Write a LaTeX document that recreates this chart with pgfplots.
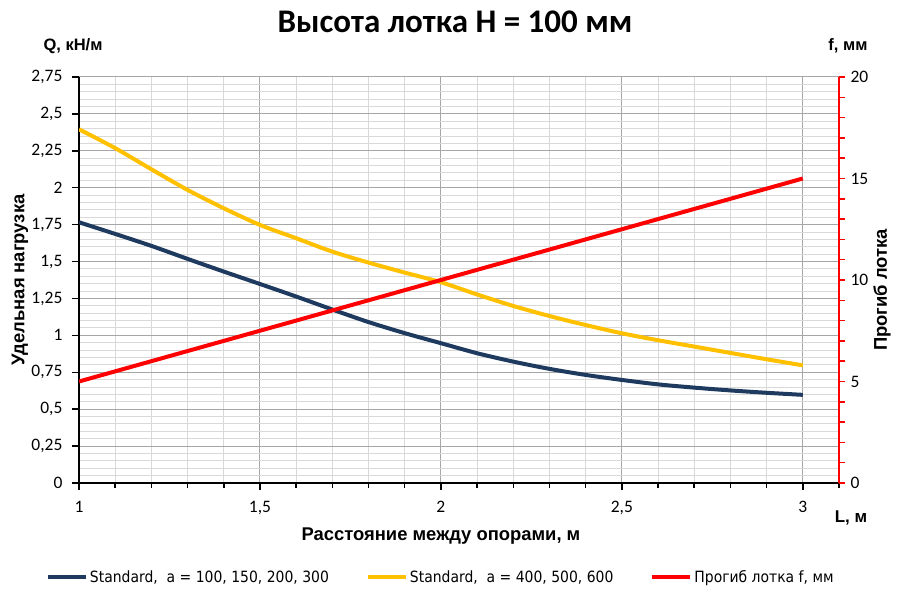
\documentclass[border=0pt]{standalone}
\usepackage{pgfplots}
\pgfplotsset{compat=1.18}
\usepackage{fontspec}
\setmainfont{Carlito}
\newfontfamily\arialfont{Liberation Sans}
\newfontfamily\legfont{DejaVu Sans}[FakeStretch=0.9]
\definecolor{navy}{HTML}{1F3A5F}
\definecolor{gold}{HTML}{FFC000}
\definecolor{majgrid}{HTML}{A6A6A6}
\definecolor{mingrid}{HTML}{D9D9D9}
\begin{document}
\begin{tikzpicture}[x=1pt,y=1pt]
\path[use as bounding box] (0,0) rectangle (900,604);
\begin{axis}[at={(79pt,121pt)}, anchor=south west, scale only axis,
  width=760pt, height=406pt,
  xmin=1, xmax=3.1, ymin=0, ymax=2.75,
  axis x line*=bottom, axis y line*=left,
  axis line style={line width=2.2pt, black, -},
  xtick={1,1.5,2,2.5,3}, xticklabels={1,{1,5},2,{2,5},3},
  minor xtick={1.1,1.2,1.3,1.4,1.6,1.7,1.8,1.9,2.1,2.2,2.3,2.4,2.6,2.7,2.8,2.9,3.1},
  ytick={0,0.25,0.5,0.75,1,1.25,1.5,1.75,2,2.25,2.5,2.75},
  yticklabels={0,{0,25},{0,5},{0,75},1,{1,25},{1,5},{1,75},2,{2,25},{2,5},{2,75}},
  minor y tick num=4,
  grid=both,
  major grid style={majgrid, line width=1pt},
  minor grid style={mingrid, line width=1pt},
  tick align=outside, major tick length=7pt, minor tick length=5pt,
  tick style={black, line width=1.5pt},
  minor y tick style={draw=none},
  ticklabel style={font=\fontsize{17.5}{17.5}\selectfont},
  xticklabel style={yshift=-8pt},
  yticklabel style={xshift=-6pt},
  legend columns=3,
  legend style={draw=none, fill=none, at={(0.476,-0.2315)}, anchor=center,
    font=\legfont\fontsize{15.5}{15.5}\selectfont,
    /tikz/every even column/.append style={column sep=35pt}},
  legend image code/.code={\draw[#1] (0pt,0pt) -- (38pt,0pt);},
]
\addplot[navy, line width=4pt, smooth] coordinates {
(1.0,1.766) (1.1,1.687) (1.2,1.606) (1.3,1.518) (1.4,1.432) (1.5,1.348)
(1.6,1.263) (1.7,1.175) (1.8,1.090) (1.9,1.015) (2.0,0.947) (2.1,0.879)
(2.2,0.822) (2.3,0.773) (2.4,0.732) (2.5,0.698) (2.6,0.668) (2.7,0.646)
(2.8,0.627) (2.9,0.611) (3.0,0.597)};
\addlegendentry{Standard,\ \ a = 100, 150, 200, 300}
\addplot[gold, line width=4pt, smooth] coordinates {
(1.0,2.396) (1.1,2.268) (1.2,2.125) (1.3,1.985) (1.4,1.861) (1.5,1.748)
(1.6,1.658) (1.7,1.567) (1.8,1.493) (1.9,1.425) (2.0,1.360) (2.1,1.277)
(2.2,1.199) (2.3,1.131) (2.4,1.070) (2.5,1.014) (2.6,0.967) (2.7,0.924)
(2.8,0.881) (2.9,0.838) (3.0,0.797)};
\addlegendentry{Standard,\ \ a = 400, 500, 600}
\addlegendimage{red, line width=4pt}
\addlegendentry{Прогиб лотка f, мм}
\end{axis}
\begin{axis}[at={(79pt,121pt)}, anchor=south west, scale only axis,
  width=760pt, height=406pt,
  xmin=1, xmax=3.1, ymin=0, ymax=20,
  axis x line=none, axis y line*=right,
  axis line style={red, line width=2.2pt, -},
  ytick={0,5,10,15,20}, yticklabels={0,5,10,15,20},
  minor y tick num=4,
  tick align=outside, major tick length=6pt, minor tick length=6pt,
  tick style={red, line width=1.5pt},
  yticklabel style={font=\fontsize{17.5}{17.5}\selectfont, xshift=2pt},
]
\addplot[red, line width=4pt] coordinates {(1,5) (3,15)};
\end{axis}
\node[font=\bfseries\fontsize{33}{33}\selectfont] at (455,582) {Высота лотка H = 100 мм};
\node[font=\arialfont\bfseries\fontsize{18.4}{18.4}\selectfont] at (441,68) {Расстояние между опорами, м};
\node[font=\arialfont\bfseries\fontsize{18.4}{18.4}\selectfont, rotate=90] at (20,324) {Удельная нагрузка};
\node[font=\arialfont\bfseries\fontsize{18.4}{18.4}\selectfont, rotate=90] at (882,314) {Прогиб лотка};
\node[font=\arialfont\bfseries\fontsize{16.5}{16.5}\selectfont] at (73,558) {Q, кН/м};
\node[font=\arialfont\bfseries\fontsize{16.5}{16.5}\selectfont] at (848,558) {f, мм};
\node[font=\arialfont\bfseries\fontsize{17}{17}\selectfont] at (851,86) {L, м};
\end{tikzpicture}
\end{document}
